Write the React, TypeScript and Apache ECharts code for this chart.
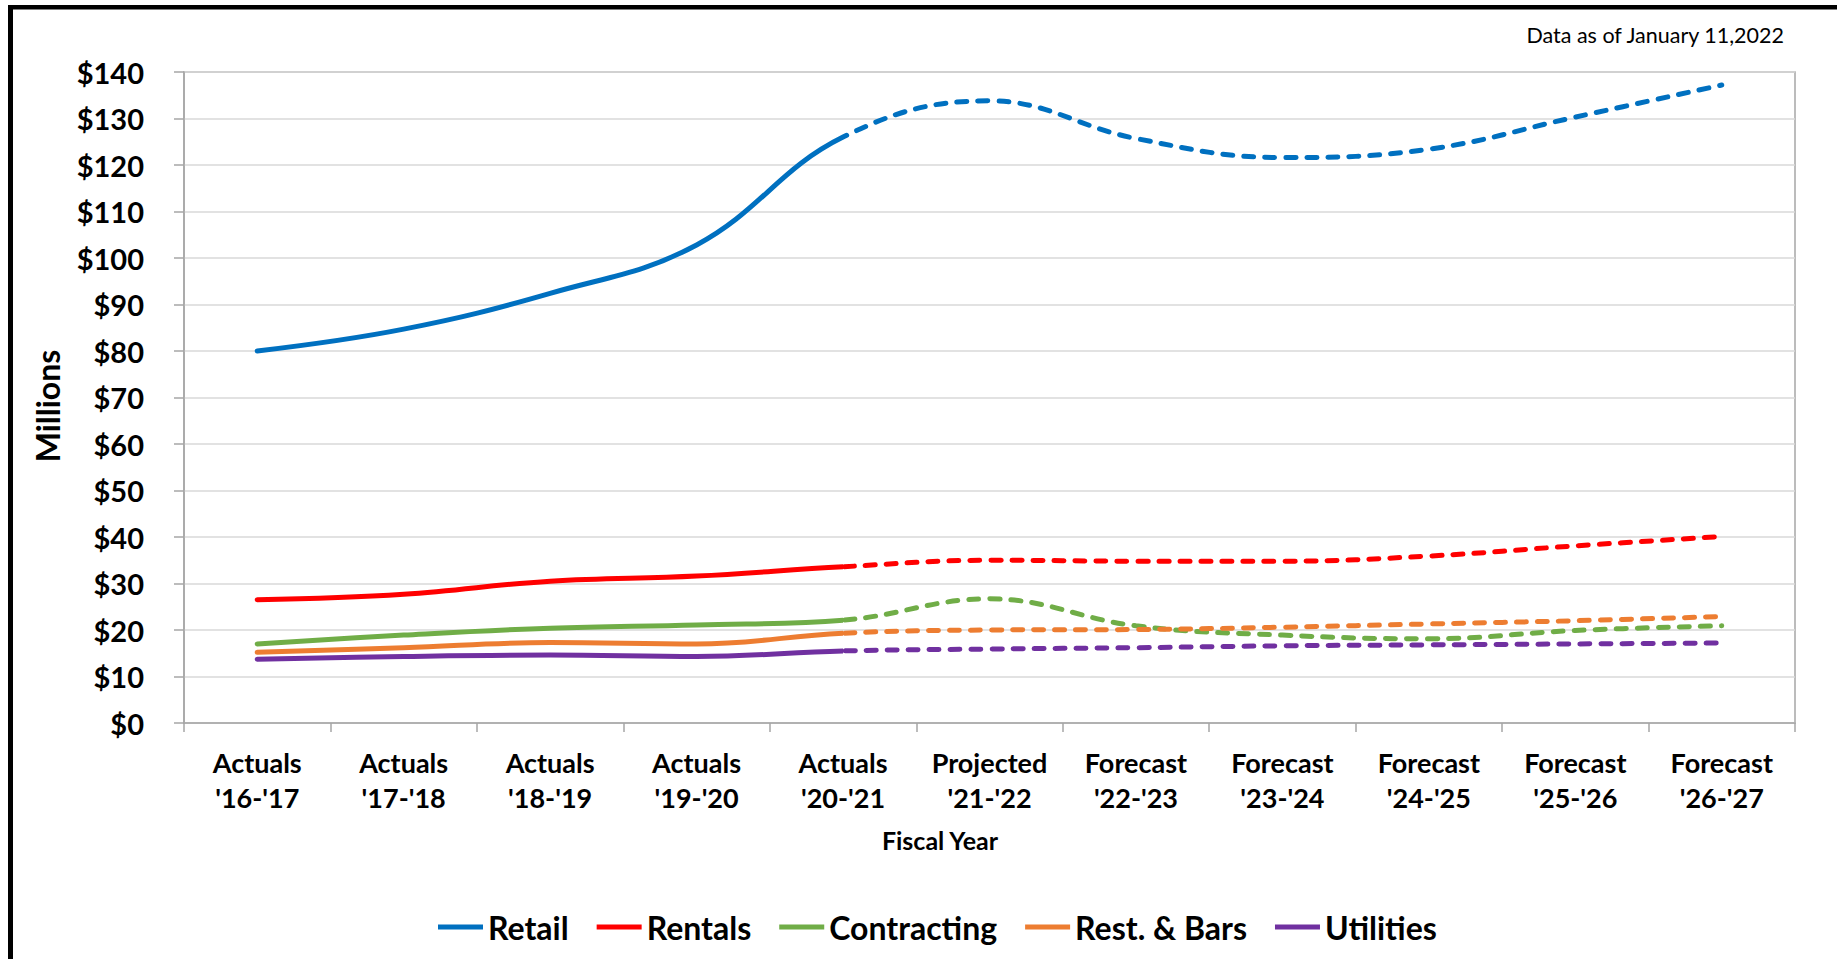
import React, { useEffect, useRef } from "react";
import * as echarts from "echarts";

const categories = [
  "Actuals\n'16-'17",
  "Actuals\n'17-'18",
  "Actuals\n'18-'19",
  "Actuals\n'19-'20",
  "Actuals\n'20-'21",
  "Projected\n'21-'22",
  "Forecast\n'22-'23",
  "Forecast\n'23-'24",
  "Forecast\n'24-'25",
  "Forecast\n'25-'26",
  "Forecast\n'26-'27",
];

// index of the last actual value; the dashed part starts here
const lastActualIndex = 4;

const seriesNames = ["Retail", "Rentals", "Contracting", "Rest. & Bars", "Utilities"];
const seriesColors = ["#0070C0", "#FF0000", "#70AD47", "#ED7D31", "#7030A0"];

const retail = [80.0, 84.7, 92.4, 102.8, 126.0, 133.8, 125.7, 121.6, 123.4, 130.3, 137.2];
const rentals = [26.5, 27.7, 30.5, 31.6, 33.6, 35.0, 34.8, 34.8, 35.9, 38.1, 40.1];
const contracting = [17.0, 18.9, 20.4, 21.1, 22.1, 26.7, 20.9, 18.9, 18.1, 19.9, 20.9];
const restBars = [15.2, 16.2, 17.3, 17.0, 19.3, 20.0, 20.1, 20.6, 21.3, 22.0, 22.9];
const utilities = [13.7, 14.3, 14.6, 14.3, 15.5, 15.9, 16.2, 16.6, 16.8, 17.0, 17.2];

const seriesValues = [retail, rentals, contracting, restBars, utilities];

const yMin = 0;
const yMax = 140;
const yInterval = 10;

const FONT = "Lato, 'Open Sans', sans-serif";
const CLEAR = "rgba(0,0,0,0)";

export default function App() {
  const ref = useRef<HTMLDivElement>(null);

  useEffect(() => {
    if (!ref.current) return;
    const chart = echarts.init(ref.current, null, { renderer: "svg" });

    const lo = -1;
    const hi = categories.length;
    const series: any[] = [];
    const visualMaps: any[] = [];
    seriesValues.forEach((vals, i) => {
      const color = seriesColors[i];
      // solid (actuals) part
      series.push({
        name: seriesNames[i],
        type: "line",
        data: vals,
        smooth: 0.4,
        symbol: "none",
        lineStyle: { width: 5, cap: "round" },
      });
      visualMaps.push({
        type: "piecewise",
        show: false,
        dimension: 0,
        seriesIndex: series.length - 1,
        pieces: [
          { gte: lo, lte: lastActualIndex, color },
          { gt: lastActualIndex, lte: hi, color: CLEAR },
        ],
        outOfRange: { color: CLEAR },
      });
      // dashed (projected / forecast) part
      series.push({
        name: seriesNames[i],
        type: "line",
        data: vals,
        smooth: 0.4,
        symbol: "none",
        lineStyle: { width: 5, type: [10, 11], cap: "round" },
      });
      visualMaps.push({
        type: "piecewise",
        show: false,
        dimension: 0,
        seriesIndex: series.length - 1,
        pieces: [
          { gte: lo, lt: lastActualIndex, color: CLEAR },
          { gte: lastActualIndex, lte: hi, color },
        ],
        outOfRange: { color: CLEAR },
      });
    });

    chart.setOption({
      animation: false,
      backgroundColor: "#ffffff",
      grid: {
        left: 184,
        right: 42,
        top: 72,
        bottom: 236,
        show: true,
        borderColor: "#a6a6a6",
        borderWidth: 1.5,
        backgroundColor: "transparent",
      },
      visualMap: visualMaps,
      legend: {
        data: seriesNames.map((n, i) => ({
          name: n,
          itemStyle: { color: seriesColors[i] },
          lineStyle: { color: seriesColors[i] },
        })),
        left: 433,
        top: 906,
        itemGap: 28,
        itemWidth: 45,
        itemHeight: 5,
        icon: "rect",
        textStyle: { fontFamily: FONT, fontSize: 32, fontWeight: "bold", color: "#000" },
      },
      xAxis: {
        type: "category",
        data: categories,
        boundaryGap: true,
        axisLine: { show: true, lineStyle: { color: "#a6a6a6", width: 1.5 } },
        axisTick: { show: true, interval: 0, length: 9, lineStyle: { color: "#a6a6a6", width: 1.5 } },
        axisLabel: {
          interval: 0,
          margin: 22,
          fontFamily: FONT,
          fontSize: 27,
          fontWeight: "bold",
          lineHeight: 35,
          color: "#000",
        },
        splitLine: { show: false },
      },
      yAxis: {
        type: "value",
        min: yMin,
        max: yMax,
        interval: yInterval,
        axisLine: { show: true, lineStyle: { color: "#a6a6a6", width: 1.5 } },
        axisTick: { show: true, length: 10, lineStyle: { color: "#a6a6a6", width: 1.5 } },
        axisLabel: {
          margin: 40,
          fontFamily: FONT,
          fontSize: 29,
          fontWeight: "bold",
          color: "#000",
          formatter: (v: number) => "$" + v,
        },
        splitLine: { show: true, lineStyle: { color: "#d9d9d9", width: 1.5 } },
      },
      graphic: [
        { type: "rect", left: 8, top: 5, shape: { width: 5, height: 954 }, style: { fill: "#000" } },
        { type: "rect", left: 8, top: 5, shape: { width: 1829, height: 4.5 }, style: { fill: "#000" } },
        {
          type: "text",
          x: 47,
          y: 406,
          rotation: Math.PI / 2,
          style: {
            text: "Millions",
            fontFamily: FONT,
            fontSize: 32,
            fontWeight: "bold",
            fill: "#000",
            textAlign: "center",
            textVerticalAlign: "middle",
          },
        },
        {
          type: "text",
          x: 940,
          y: 840,
          style: {
            text: "Fiscal Year",
            fontFamily: FONT,
            fontSize: 25,
            fontWeight: "bold",
            fill: "#000",
            textAlign: "center",
            textVerticalAlign: "middle",
          },
        },
        {
          type: "text",
          x: 1784,
          y: 35,
          style: {
            text: "Data as of January 11,2022",
            fontFamily: FONT,
            fontSize: 21.5,
            fill: "#000",
            textAlign: "right",
            textVerticalAlign: "middle",
          },
        },
      ],
      series,
    });

    return () => {
      chart.dispose();
    };
  }, []);

  return (
    <div
      ref={ref}
      style={{ position: "absolute", left: 0, top: 0, width: 1837, height: 959, background: "#fff" }}
    />
  );
}
